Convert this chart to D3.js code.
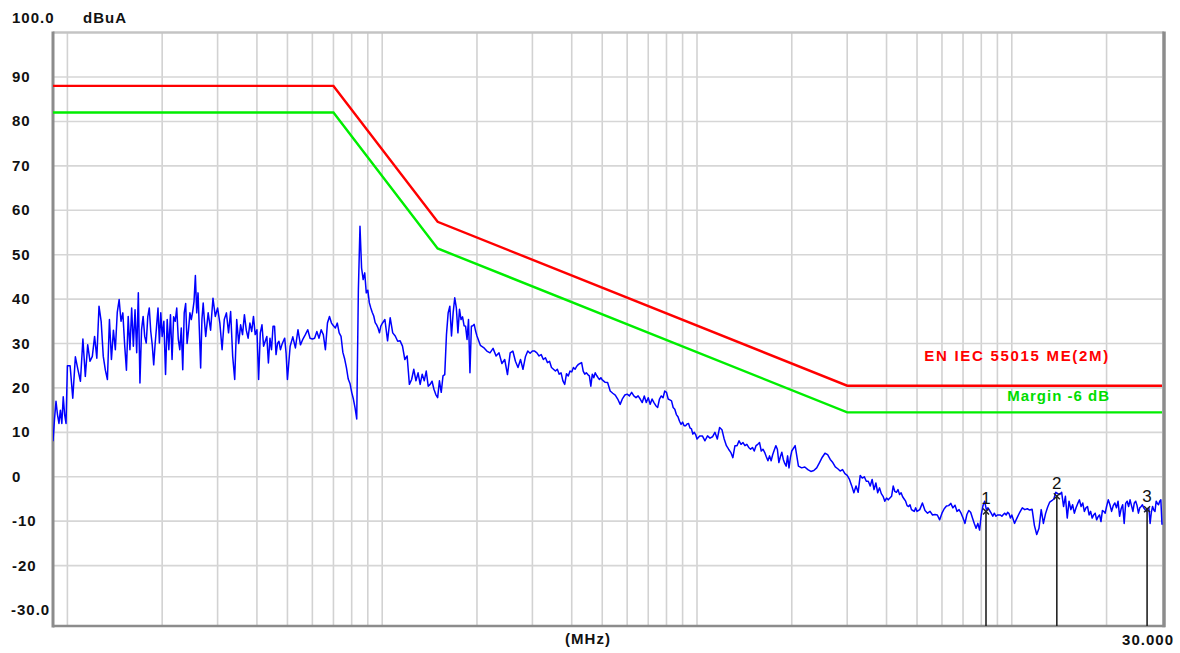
<!DOCTYPE html>
<html><head><meta charset="utf-8">
<script src="https://cdn.jsdelivr.net/npm/d3@7"></script>
<style>
html,body{margin:0;padding:0;background:#fff;}
svg{display:block;}
text{font-family:"Liberation Sans",Arial,sans-serif;}
</style></head><body>
<svg id="chart" width="1180" height="653"></svg>
<script>
// ---------- DATA ----------
const yTickLabels = [90, 80, 70, 60, 50, 40, 30, 20, 10, 0, -10, -20];
const yTopLabel = "100.0", yBottomLabel = "-30.0", yUnit = "dBuA";
const xUnit = "(MHz)", xEndLabel = "30.000";

const limitFreq  = [0.009, 0.07, 0.15, 3, 30];
const limitLevel = [88, 88, 57.4, 20.5, 20.5];
const marginLevel = [82, 82, 51.4, 14.5, 14.5];
const limitName = "EN IEC 55015 ME(2M)";
const marginName = "Margin -6 dB";

const markerFreq  = [8.28, 13.9, 26.9];
const markerLevel = [-7.8, -4.4, -7.3];
const markerNames = ["1", "2", "3"];

// measured trace, 9 kHz - 100 kHz
const dec1Freq = [
0.009,0.0091,0.0092,0.0093,0.0094,0.0095,0.0096,0.0097,0.0098,0.0099,0.01,
0.0102,0.0104,0.0106,0.0108,0.011,0.0112,0.0114,0.0116,0.0118,0.012,
0.0122,0.0124,0.0126,0.0128,0.013,0.0132,0.0134,0.0136,0.0138,0.014,
0.0142,0.0144,0.0146,0.0148,0.015,0.0152,0.0154,0.0156,0.0158,0.016,
0.0162,0.0164,0.0166,0.0168,0.017,0.0172,0.0174,0.0176,0.0178,0.018,
0.0182,0.0184,0.0186,0.0188,0.019,0.0192,0.0194,0.0196,0.0198,0.02,
0.02025,0.0205,0.02075,0.021,0.02125,0.0215,0.02175,0.022,0.02225,0.0225,
0.02275,0.023,0.02325,0.0235,0.02375,0.024,0.02425,0.0245,0.02475,0.025,
0.02525,0.0255,0.02575,0.026,0.02625,0.0265,0.02675,0.027,0.02725,0.0275,
0.028,0.0285,0.029,0.0295,0.03,
0.0305,0.031,0.0315,0.032,0.0325,0.033,0.0335,0.034,0.0345,0.035,
0.0355,0.036,0.0365,0.037,0.0375,0.038,0.0385,0.039,0.0395,0.04,
0.0405,0.041,0.0415,0.042,0.0425,0.043,0.0435,0.044,0.0445,0.045,
0.0455,0.046,0.0465,0.047,0.0475,0.048,0.0485,0.049,0.0495,0.05,
0.051,0.052,0.053,0.054,0.055,0.056,0.057,0.058,0.059,0.06,
0.061,0.062,0.063,0.064,0.065,0.066,0.067,0.068,0.069,0.07,
0.071,0.072,0.073,0.074,0.075,0.076,0.077,0.078,0.079,0.08,
0.081,0.082,0.083,0.084,0.085,0.086,0.087,0.088,0.089,0.09,
0.091,0.092,0.093,0.094,0.095,0.096,0.097,0.098,0.099,0.1];
const dec1Level = [
8,13,17,14,12,15,12,18,14,12,25,
25,17.7,27,24.1,21.5,31,22.6,29.7,26,27.1,
31.6,26.7,38.4,35,27.1,24,21.9,35.4,26.4,33,
28.6,37,39.9,35,36.9,29.7,24,36.1,28.6,38,
29.4,37.6,27.9,41.4,21.1,33.1,36.1,31.6,30.1,36,
38,32.7,29.7,25.2,30,33.9,38,30.1,36.9,31.6,
35,23,35.4,28.6,36.5,26.4,36,35,38,31,
28.6,33.5,24.1,36.9,39,30,33,36.9,35.4,37.2,
39.5,45.3,36.9,41.4,33.1,24.5,35.4,39.1,35,31.6,
36.9,33,40.2,36.1,38,
34.6,28.6,35.4,36.9,32.4,37.2,27.1,21.9,35.4,30,
34.2,32,36.5,33,31.2,34.6,32.7,36.1,32,33.1,
21.9,32.4,34.2,29.4,30.5,31.6,25.6,31.2,28.6,33.9,
33.9,27.5,30,30.5,28.6,29.7,30.5,31.2,27.9,21.9,
29.4,31.5,29,33.1,29.7,31,32,33.1,31.2,31,
31.2,32.7,31.2,33.1,32,28.6,34.6,36.1,34.6,34,
33.5,34.6,32.4,31.6,28,26.5,24.5,22,21,19,
17.5,15.5,13,42,56.4,47,44.4,45.9,41.4,42,
39.2,38,37,36.2,34.7,34.2,33.5,32.4,33.9,34.5];

// 100 kHz - 1 MHz
const dec2Freq = [
0.102,0.104,0.106,0.108,0.11,0.112,0.114,0.116,0.118,0.12,
0.122,0.124,0.126,0.128,0.13,0.132,0.134,0.136,0.138,0.14,
0.142,0.144,0.146,0.148,0.15,0.152,0.154,0.156,0.158,0.16,
0.162,0.164,0.166,0.168,0.17,0.172,0.174,0.176,0.178,0.18,
0.182,0.184,0.186,0.188,0.19,0.192,0.194,0.196,0.198,0.2,
0.205,0.21,0.215,0.22,0.225,
0.23,0.235,0.24,0.245,0.25,
0.255,0.26,0.265,0.27,0.275,
0.28,0.285,0.29,0.295,0.3,
0.305,0.31,0.315,0.32,0.325,0.33,0.335,0.34,0.345,0.35,
0.355,0.36,0.365,0.37,0.375,0.38,0.385,0.39,0.395,0.4,
0.405,0.41,0.415,0.42,0.425,0.43,0.435,0.44,0.445,0.45,
0.455,0.46,0.465,0.47,0.475,0.48,0.485,0.49,0.495,0.5,
0.51,0.52,0.53,0.54,0.55,0.56,0.57,0.58,0.59,0.6,
0.61,0.62,0.63,0.64,0.65,0.66,0.67,0.68,0.69,0.7,
0.71,0.72,0.73,0.74,0.75,0.76,0.77,0.78,0.79,0.8,
0.81,0.82,0.83,0.84,0.85,0.86,0.87,0.88,0.89,0.9,
0.91,0.92,0.93,0.94,0.95,0.96,0.97,0.98,0.99,1.0];
const dec2Level = [
35.4,30.6,35.8,32.4,31.7,30.5,30.6,29.4,26.4,27.2,
20.8,21.9,24.2,21.6,23.4,20.8,23.1,21.6,23.8,20.4,
20.8,21.5,19.7,18.5,17.8,21.6,19,22.7,23,32,
36.9,38.4,31.7,36.9,40.3,38,32.4,37.7,35.4,36,
34,33.9,30.9,35.4,23.4,33.9,34,34.3,32.8,31.7,
29.6,29.1,28.3,27.9,28.9,
27.2,27.9,25.5,26.4,23,
27.9,28.3,26,24.6,26.4,
24.2,27,28.3,27.8,28.3,
28.3,27.9,27.2,27.5,26.4,26.8,25.7,26,24.6,24.2,
23.8,24.2,23.1,23.4,21.6,20.8,23.2,22.7,23.8,23.6,
24.6,24.2,24.9,25.3,25.5,25.7,23.8,23.1,23.4,23,
22.7,20.4,23.1,22.3,23.4,22.8,22.3,21.9,22.3,21.8,
21.3,21.2,19.3,18.8,18.4,17.5,16.3,17.6,18.4,18.6,
18.2,19,18.2,17.8,18.2,17.5,16.7,18.2,16.7,17.8,
16.3,17.5,16.7,16,15.6,17.5,18.2,17.8,19.3,19,
17.5,17.3,17.1,15.6,15.2,14,13.5,12.5,11.8,12.3,
11.5,11.5,11.9,12,11,10.8,9.6,10,9.5,8.5];

// 1 MHz - 10 MHz
const dec3Freq = [
1.02,1.04,1.06,1.08,1.1,1.12,1.14,1.16,1.18,1.2,
1.22,1.24,1.26,1.28,1.3,1.32,1.34,1.36,1.38,1.4,
1.42,1.44,1.46,1.48,1.5,1.52,1.54,1.56,1.58,1.6,
1.62,1.64,1.66,1.68,1.7,1.72,1.74,1.76,1.78,1.8,
1.82,1.84,1.86,1.88,1.9,1.92,1.94,1.96,1.98,2.0,
2.05,2.1,2.15,2.2,2.25,
2.3,2.35,2.4,2.45,2.5,
2.55,2.6,2.65,2.7,2.75,
2.8,2.85,2.9,2.95,3.0,
3.05,3.1,3.15,3.2,3.25,3.3,3.35,3.4,3.45,3.5,
3.55,3.6,3.65,3.7,3.75,3.8,3.85,3.9,3.95,4.0,
4.05,4.1,4.15,4.2,4.25,4.3,4.35,4.4,4.45,4.5,
4.55,4.6,4.65,4.7,4.75,4.8,4.85,4.9,4.95,5.0,
5.1,5.2,5.3,5.4,5.5,5.6,5.7,5.8,5.9,6.0,
6.1,6.2,6.3,6.4,6.5,6.6,6.7,6.8,6.9,7.0,
7.1,7.2,7.3,7.4,7.5,7.6,7.7,7.8,7.9,8.0,
8.1,8.2,8.3,8.4,8.5,8.6,8.7,8.8,8.9,9.0,
9.1,9.2,9.3,9.4,9.5,9.6,9.7,9.8,9.9,10.0];
const dec3Level = [
9.2,9.2,8.1,9.2,8.7,9,10,8.5,11.1,10.6,
8.5,7,6.2,5.5,4.3,7,7,8.1,7.3,7.7,
7,7.3,6.6,6.2,6.6,5.8,7,7.3,7.7,5.8,
6.2,5.5,4.5,3.6,4.7,3.6,5,6,7,6.2,
3.2,4.5,5.5,3.9,3,2.4,4.7,2,4.3,5.8,
7,2.4,2,2.2,1.6,
1.2,1.4,2,3.2,4.4,
5.3,5,3.9,3.2,2.2,
1.8,1.3,1.6,0.7,0.3,
-0.6,-2,-3.6,-2.1,-3.5,0.3,-0.3,0,-1,-1,
-2.1,-0.6,-2.9,-1.4,-3.6,-2.5,-3.8,-4.4,-5.5,-4.8,
-5.2,-4.8,-4.4,-2.1,-3.3,-3.5,-2.9,-4,-3.6,-4.5,
-5,-5.5,-6.5,-6.7,-6.3,-7.4,-7.6,-7.8,-7,-7.8,
-7.4,-5.9,-7.6,-8.2,-7.8,-8.6,-8.5,-8.6,-9.7,-8.2,
-7.2,-6.6,-6.5,-6,-7,-6.4,-7.8,-7.4,-8.2,-9.3,
-10.5,-8.5,-7.6,-8,-9.3,-10.5,-11.6,-10.5,-12,-8.5,
-6.5,-5.5,-7.4,-7,-7.6,-8.2,-8.9,-8.2,-8.9,-8.6,
-8.6,-8.6,-8.9,-8.5,-8.2,-8.6,-8,-8.3,-9.3,-8.6];

// 10 MHz - 30 MHz
const dec4Freq = [
10.2,10.4,10.6,10.8,11,11.2,11.4,11.6,11.8,12,
12.2,12.4,12.6,12.8,13,13.2,13.4,13.6,13.8,14,
14.2,14.4,14.6,14.8,15,15.2,15.4,15.6,15.8,16,
16.2,16.4,16.6,16.8,17,17.2,17.4,17.6,17.8,18,
18.2,18.4,18.6,18.8,19,19.2,19.4,19.6,19.8,20,
20.25,20.5,20.75,21,21.25,21.5,21.75,22,22.25,22.5,
22.75,23,23.25,23.5,23.75,24,24.25,24.5,24.75,25,
25.25,25.5,25.75,26,26.25,26.5,26.75,27,27.25,27.5,
27.75,28,28.25,28.5,28.75,29,29.25,29.5,29.75,30];
const dec4Level = [
-10.5,-9.2,-8,-7,-7.4,-7.2,-7.5,-7.3,-11,-13,
-11.6,-7.4,-10.5,-8.3,-6.8,-5.7,-5.4,-5,-3.5,-3.8,
-4,-3.5,-6.7,-4.4,-9.3,-5.5,-7.4,-6.3,-8.2,-7,
-6,-5.2,-6.7,-5.9,-7.8,-7,-6.7,-8.6,-7.8,-9.3,
-8.6,-8.2,-9.7,-9,-8.6,-10.1,-7.6,-7.8,-8.2,-6.7,
-5.2,-6.3,-7.8,-6.5,-5.9,-7,-5.5,-8.9,-7.2,-6.3,
-10.5,-6,-5.5,-6.7,-5.2,-6.5,-7.8,-5.9,-5.5,-6.5,
-8.2,-7,-6.7,-6.3,-7,-7.4,-7.8,-7.2,-7,-10.5,
-8,-6.7,-7.5,-7.8,-5.5,-6,-6.3,-5.5,-5.2,-10.8];

// ---------- CHART ----------
const pairs = [[dec1Freq,dec1Level],[dec2Freq,dec2Level],[dec3Freq,dec3Level],[dec4Freq,dec4Level]];
pairs.forEach(([f,l],i)=>{ if(f.length!==l.length) throw new Error("length mismatch in decade "+(i+1)+": "+f.length+" vs "+l.length); });
const trace = pairs.flatMap(([f,l]) => d3.zip(f,l));

const svg = d3.select("#chart");
const plotLeft = 53, plotRight = 1162, plotTop = 32.6, frameBottom = 626;
const x = d3.scaleLog().domain([0.009, 30]).range([plotLeft, plotRight]);
const y = d3.scaleLinear().domain([-30, 100]).range([610, plotTop]);

svg.append("rect").attr("width",1180).attr("height",653).attr("fill","#fff");

svg.append("defs").append("clipPath").attr("id","plotClip")
  .append("rect").attr("x",plotLeft).attr("y",plotTop).attr("width",plotRight-plotLeft+1).attr("height",frameBottom-plotTop);

// grid
const gridFreqs = x.ticks().filter(v => v > 0.0095 && v < 29);
const grid = svg.append("g");
grid.selectAll("line.v").data(gridFreqs).join("line")
  .attr("x1",d=>x(d)).attr("x2",d=>x(d)).attr("y1",plotTop).attr("y2",frameBottom)
  .attr("stroke","#d2d2d2").attr("stroke-width",1.6);
grid.selectAll("line.h").data(yTickLabels).join("line")
  .attr("x1",plotLeft).attr("x2",plotRight).attr("y1",d=>y(d)).attr("y2",d=>y(d))
  .attr("stroke","#d6d6d6").attr("stroke-width",1.6);

// frame
const frame = svg.append("g");
frame.append("line").attr("x1",plotLeft).attr("x2",plotRight+2).attr("y1",plotTop).attr("y2",plotTop).attr("stroke","#c4c4c4").attr("stroke-width",2.5);
frame.append("line").attr("x1",plotLeft).attr("x2",plotLeft).attr("y1",plotTop-1).attr("y2",frameBottom+1.5).attr("stroke","#8c8c8c").attr("stroke-width",3);
frame.append("line").attr("x1",plotLeft).attr("x2",plotRight+3).attr("y1",frameBottom).attr("y2",frameBottom).attr("stroke","#8c8c8c").attr("stroke-width",2.5);
frame.append("line").attr("x1",plotRight+2).attr("x2",plotRight+2).attr("y1",plotTop-1).attr("y2",frameBottom+1.2).attr("stroke","#8c8c8c").attr("stroke-width",3.5);

// y labels
const lab = svg.append("g").attr("font-size",15).attr("font-weight","bold").attr("fill","#111").style("letter-spacing","1px");
lab.selectAll("text.y").data(yTickLabels).join("text")
  .attr("x",12).attr("y",d=>y(d)+5).text(d=>d);
lab.append("text").attr("x",12).attr("y",23).text(yTopLabel);
lab.append("text").attr("x",83).attr("y",23).text(yUnit);
lab.append("text").attr("x",11).attr("y",y(-30)+5).text(yBottomLabel);
lab.append("text").attr("x",588).attr("y",644).attr("text-anchor","middle").text(xUnit);
lab.append("text").attr("x",1174).attr("y",645).attr("text-anchor","end").text(xEndLabel);

// lines
const line = d3.line().x(d=>x(d[0])).y(d=>y(d[1]));
const plot = svg.append("g").attr("clip-path","url(#plotClip)");
plot.append("path").datum(trace).attr("d",line).attr("fill","none")
  .attr("stroke","#0000ff").attr("stroke-width",1.5).attr("stroke-linejoin","round");
plot.append("path").datum(d3.zip(limitFreq,marginLevel)).attr("d",line).attr("fill","none")
  .attr("stroke","#00ee00").attr("stroke-width",2.4);
plot.append("path").datum(d3.zip(limitFreq,limitLevel)).attr("d",line).attr("fill","none")
  .attr("stroke","#ff0000").attr("stroke-width",2.4);

// limit labels
svg.append("text").attr("x",1110).attr("y",361).attr("text-anchor","end")
  .attr("font-size",15).attr("font-weight","bold").attr("fill","#ff0000").style("letter-spacing","1.7px").text(limitName);
svg.append("text").attr("x",1110).attr("y",401).attr("text-anchor","end")
  .attr("font-size",15).attr("font-weight","bold").attr("fill","#00dd00").style("letter-spacing","1px").text(marginName);

// markers
const markers = d3.zip(markerFreq, markerLevel, markerNames);
const mk = svg.append("g");
mk.selectAll("line").data(markers).join("line")
  .attr("x1",d=>x(d[0])).attr("x2",d=>x(d[0])).attr("y1",d=>y(d[1])).attr("y2",frameBottom)
  .attr("stroke","#222").attr("stroke-width",1.6);
mk.selectAll("path").data(markers).join("path")
  .attr("transform",d=>`translate(${x(d[0])},${y(d[1])})`)
  .attr("d","M-3,-3L3,3M-3,3L3,-3").attr("stroke","#222").attr("stroke-width",1.4).attr("fill","none");
mk.selectAll("text").data(markers).join("text")
  .attr("x",d=>x(d[0])).attr("y",d=>y(d[1])-7).attr("text-anchor","middle")
  .attr("font-size",17).attr("fill","#111").text(d=>d[2]);
</script>
</body></html>
